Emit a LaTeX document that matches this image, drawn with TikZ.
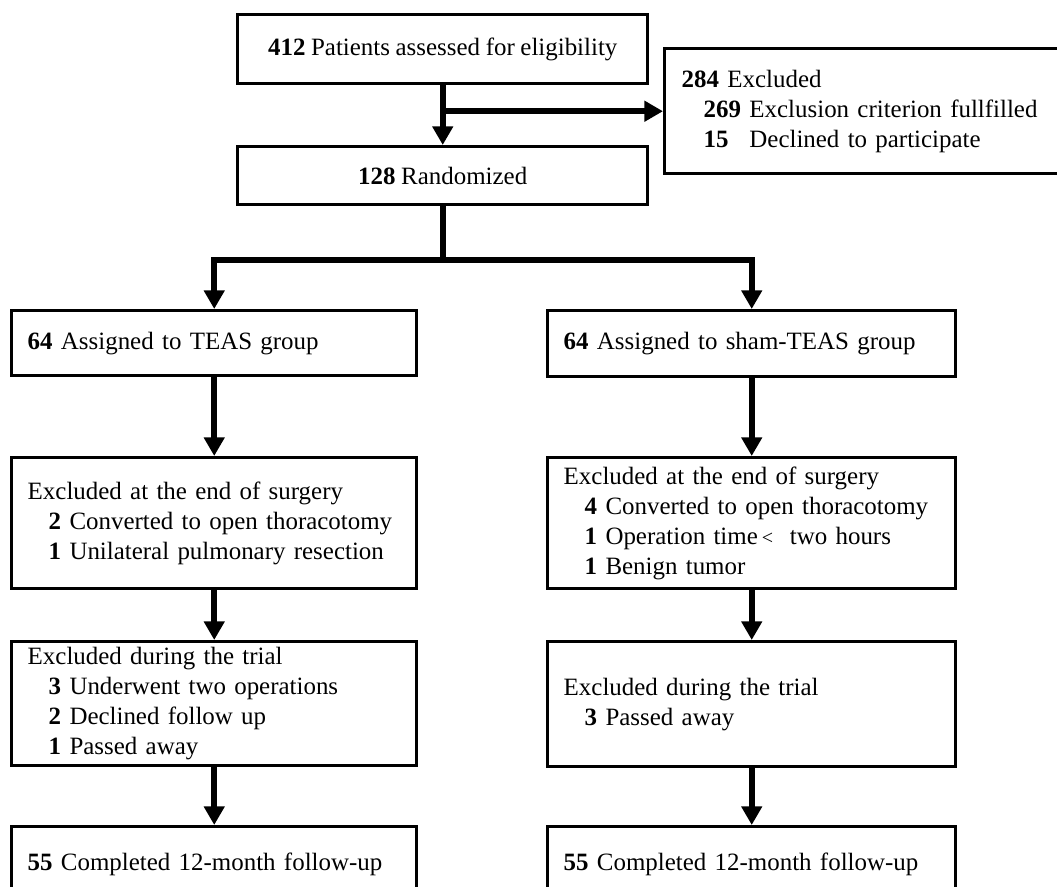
\documentclass[tikz,border=0pt]{standalone}
\usepackage{fontspec}
\setmainfont{Liberation Serif}[WordSpace=0.9]
\usetikzlibrary{arrows.meta}
\newcommand\subind{\hspace*{15.75pt}}
\hyphenpenalty=10000
\exhyphenpenalty=10000
\begin{document}
\begin{tikzpicture}[x=0.75pt,y=-0.75pt,
  box/.style={draw, line width=2.6pt, inner xsep=12pt, inner ysep=0pt, anchor=north west,
              font=\fontsize{18.7}{22.5}\selectfont},
  lbox/.style={box, align=left, text width=#1},
  cbox/.style={box, align=center},
  arr/.style={line width=4.5pt, -{Triangle[width=15pt,length=14pt]}},
  plain/.style={line width=4.5pt}]
\useasboundingbox (0,0) rectangle (1057,887);
\clip (0,0) rectangle (1057,887);

% top part
\node[cbox, minimum width=307.5pt, minimum height=51.75pt] (elig) at (236,13)
  {\textbf{412} Patients assessed for eligibility};
\node[cbox, minimum width=307.5pt, minimum height=43.5pt] (rand) at (236,145)
  {\textbf{128} Randomized};
\node[lbox=291pt, inner xsep=12.75pt, minimum height=93.75pt] (excl) at (663,47)
  {\textbf{284} Excluded\\
   \hspace*{16.5pt}\textbf{269} Exclusion criterion fullfilled\\
   \hspace*{16.5pt}\textbf{15}\hphantom{\textbf{9}} Declined to participate};

% left column
\node[lbox=279.75pt, minimum height=48.75pt] (teas) at (10,309)
  {\textbf{64} Assigned to TEAS group};
\node[lbox=279.75pt, minimum height=98.25pt] (exAL) at (10,456)
  {Excluded at the end of surgery\\
   \subind\textbf{2} Converted to open thoracotomy\\
   \subind\textbf{1} Unilateral pulmonary resection};
\node[lbox=279.75pt, minimum height=93pt] (exBL) at (10,640)
  {Excluded during the trial\\
   \subind\textbf{3} Underwent two operations\\
   \subind\textbf{2} Declined follow up\\
   \subind\textbf{1} Passed away};
\node[lbox=279.75pt, minimum height=57pt] (doneL) at (10,825)
  {\textbf{55} Completed 12-month follow-up};

% right column
\node[lbox=282pt, minimum height=49.5pt] (sham) at (546,309)
  {\textbf{64} Assigned to sham-TEAS group};
\node[lbox=282pt, minimum height=98.25pt] (exAR) at (546,456)
  {Excluded at the end of surgery\\
   \subind\textbf{4} Converted to open thoracotomy\\
   \subind\textbf{1} Operation time\,{\fontsize{15}{15}\selectfont<}\ \ two hours\\
   \subind\textbf{1} Benign tumor};
\node[lbox=282pt, minimum height=93.75pt] (exBR) at (546,640)
  {Excluded during the trial\\
   \subind\textbf{3} Passed away};
\node[lbox=282pt, minimum height=57pt] (doneR) at (546,825)
  {\textbf{55} Completed 12-month follow-up};

% connectors
\draw[arr] (elig.south) -- (rand.north);
\coordinate (br) at (elig.south |- excl.west);
\draw[arr] (br) -- (excl.west);
\path (rand.south) ++(0,54) coordinate (sp);
\draw[plain] (rand.south) -- (sp);
\draw[arr] (sp) -| (teas.north);
\draw[arr] (sp) -| (sham.north);
\draw[arr] (teas.south) -- (exAL.north);
\draw[arr] (exAL.south) -- (exBL.north);
\draw[arr] (exBL.south) -- (doneL.north);
\draw[arr] (sham.south) -- (exAR.north);
\draw[arr] (exAR.south) -- (exBR.north);
\draw[arr] (exBR.south) -- (doneR.north);
\end{tikzpicture}
\end{document}
